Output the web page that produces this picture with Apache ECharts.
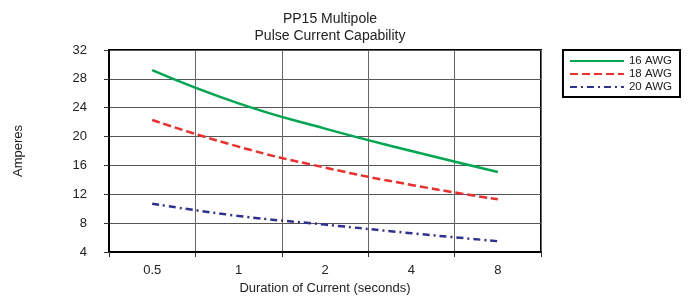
<!DOCTYPE html>
<html><head><meta charset="utf-8">
<script src="https://cdn.jsdelivr.net/npm/echarts@6/dist/echarts.min.js"></script>
<style>html,body{margin:0;padding:0;background:#fff}#c{width:688px;height:306px}</style>
</head><body><div id="c"></div>
<script>
const categories = ['0.5', '1', '2', '4', '8'];
const awg16 = [29.2, 24.6, 21.1, 18.0, 15.1];
const awg18 = [22.3, 18.6, 15.7, 13.3, 11.3];
const awg20 = [10.7, 9.0, 7.8, 6.6, 5.5];
const yTicks = { min: 4, max: 32, step: 4 };

const font = 'Liberation Sans, Arial, sans-serif';
const chart = echarts.init(document.getElementById('c'), null, { renderer: 'canvas' });
chart.setOption({
  animation: false,
  backgroundColor: '#fff',
  title: {
    text: 'PP15 Multipole\nPulse Current Capability',
    left: 325, top: 6, textAlign: 'center',
    textStyle: { fontFamily: font, fontSize: 14, fontWeight: 'normal', color: '#222', lineHeight: 17 }
  },
  legend: {
    orient: 'vertical', right: 8, top: 50,
    borderColor: '#000', borderWidth: 2, padding: [5, 8, 4, 6],
    itemWidth: 54, itemHeight: 10, itemGap: 1,
    itemStyle: { opacity: 0 },
    textStyle: { fontFamily: font, fontSize: 11.5, color: '#222' },
    data: ['16 AWG', '18 AWG', '20 AWG']
  },
  grid: { left: 109, right: 147, top: 50, bottom: 54, show: true, borderColor: '#000', borderWidth: 2 },
  xAxis: {
    type: 'category', data: categories, boundaryGap: true,
    name: 'Duration of Current (seconds)', nameLocation: 'middle', nameGap: 30,
    nameTextStyle: { fontFamily: font, fontSize: 13, color: '#222' },
    axisLine: { lineStyle: { color: '#000', width: 2 } },
    axisTick: { show: true, length: 5, lineStyle: { color: '#333' } },
    axisLabel: { fontFamily: font, fontSize: 13, color: '#222', margin: 12 },
    splitLine: { show: true, interval: 0, lineStyle: { color: '#666', width: 1 } }
  },
  yAxis: {
    type: 'value', min: yTicks.min, max: yTicks.max, interval: yTicks.step,
    name: 'Amperes', nameLocation: 'middle', nameGap: 84, nameRotate: 90,
    nameTextStyle: { fontFamily: font, fontSize: 13, color: '#222' },
    axisLine: { show: true, lineStyle: { color: '#000', width: 2 } },
    axisTick: { show: true, length: 5, lineStyle: { color: '#333' } },
    axisLabel: { fontFamily: font, fontSize: 13, color: '#222', margin: 22 },
    splitLine: { show: true, lineStyle: { color: '#555', width: 1 } }
  },
  series: [
    { name: '16 AWG', type: 'line', data: awg16, smooth: true, symbol: 'none',
      lineStyle: { color: '#00a651', width: 2.5, type: 'solid' }, itemStyle: { color: '#00a651' } },
    { name: '18 AWG', type: 'line', data: awg18, smooth: true, symbol: 'none',
      lineStyle: { color: '#ee2d2d', width: 2.5, type: [8, 4] }, itemStyle: { color: '#ee2d2d' } },
    { name: '20 AWG', type: 'line', data: awg20, smooth: true, symbol: 'none',
      lineStyle: { color: '#2e3192', width: 2.5, type: [7, 4, 2, 4] }, itemStyle: { color: '#2e3192' } }
  ]
});
</script></body></html>
